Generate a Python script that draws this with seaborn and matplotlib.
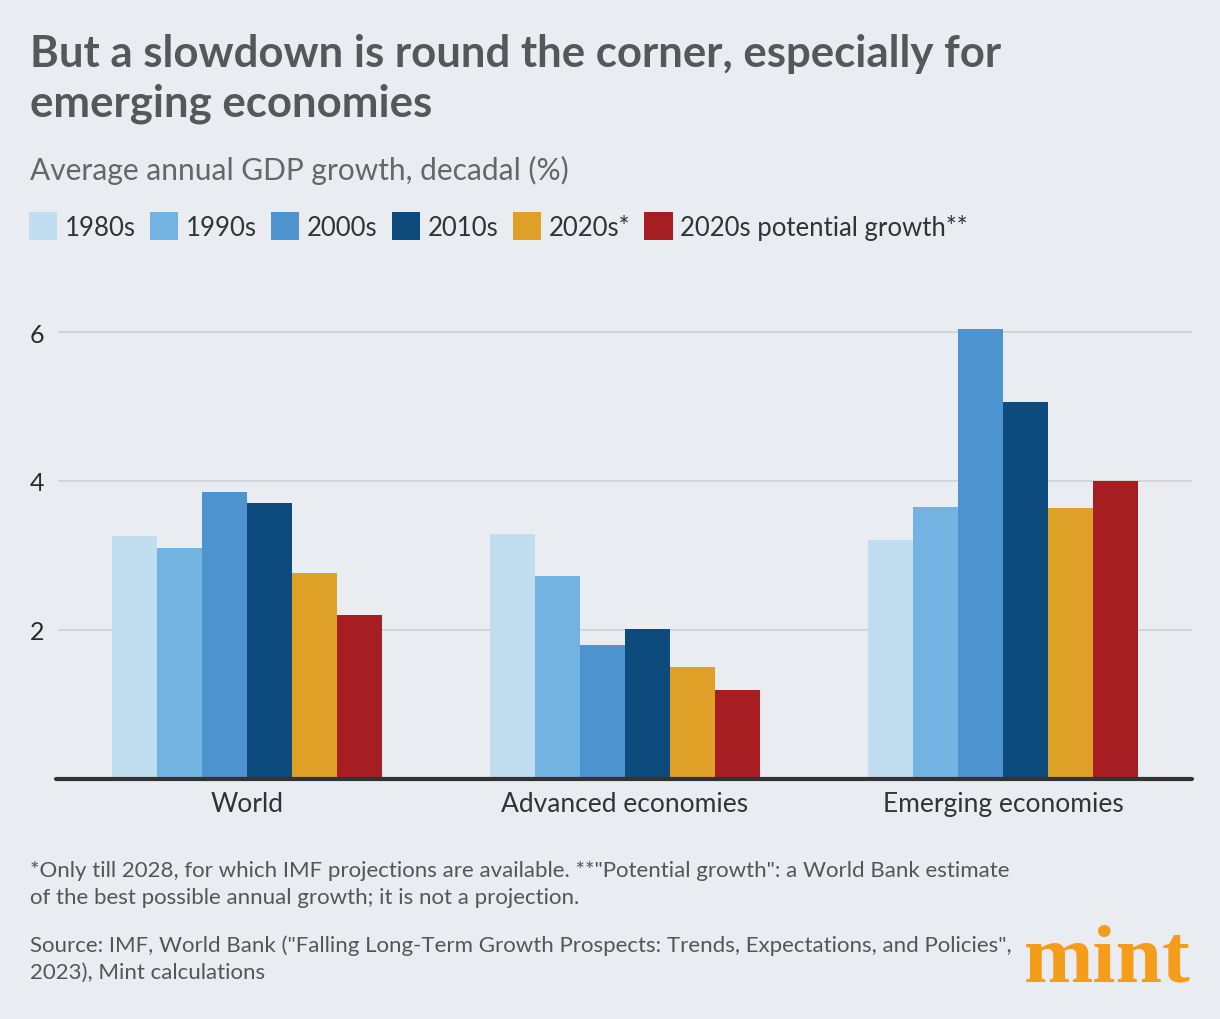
import matplotlib
matplotlib.use("Agg")
import matplotlib.pyplot as plt
import seaborn as sns
import pandas as pd

# ---- data ----
regions = ["World", "Advanced economies", "Emerging economies"]
decades = ["1980s", "1990s", "2000s", "2010s", "2020s*", "2020s potential growth**"]
growth_1980s = [3.26, 3.29, 3.21]
growth_1990s = [3.10, 2.72, 3.65]
growth_2000s = [3.85, 1.79, 6.04]
growth_2010s = [3.70, 2.01, 5.06]
growth_2020s = [2.76, 1.50, 3.64]
growth_2020s_potential = [2.20, 1.19, 4.00]
y_ticks = [2, 4, 6]

title_lines = ["But a slowdown is round the corner, especially for", "emerging economies"]
subtitle = "Average annual GDP growth, decadal (%)"
footnote_lines = ["*Only till 2028, for which IMF projections are available. **\"Potential growth\": a World Bank estimate",
                  "of the best possible annual growth; it is not a projection."]
source_lines = ["Source: IMF, World Bank (\"Falling Long-Term Growth Prospects: Trends, Expectations, and Policies\",",
                "2023), Mint calculations"]

colors = ["#c1ddf0", "#72b3e2", "#4c93cf", "#0d4b7c", "#dea027", "#a61e22"]
BG = "#e9ecf0"

series = [growth_1980s, growth_1990s, growth_2000s, growth_2010s, growth_2020s, growth_2020s_potential]
rows = []
for dec, vals in zip(decades, series):
    for reg, v in zip(regions, vals):
        rows.append({"region": reg, "decade": dec, "value": v})
df = pd.DataFrame(rows)

sns.set_theme(style="white")
FONT = ["Lato", "DejaVu Sans"]
plt.rcParams["font.family"] = FONT

W, H = 1220, 1020
fig = plt.figure(figsize=(W / 100, H / 100), dpi=100, facecolor=BG)

def fx(px):
    return px / W

def fy(py):
    return 1 - py / H

# axes placement (pixels)
ax_left, ax_right = 58, 1192
y0_px = 779.5
unit = 74.4
ymax = 6.5
ax_top = y0_px - ymax * unit
ax = fig.add_axes([fx(ax_left), fy(y0_px), (ax_right - ax_left) / W, (y0_px - ax_top) / H])
ax.set_facecolor(BG)

sns.barplot(data=df, x="region", y="value", hue="decade", hue_order=decades,
            order=regions, palette=colors, saturation=1, width=0.716,
            errorbar=None, ax=ax, linewidth=0, zorder=2)

handles, labels = ax.get_legend_handles_labels()
if ax.get_legend() is not None:
    ax.get_legend().remove()

ax.set_xlim(-0.5, 2.5)
ax.set_ylim(0, ymax)
ax.set_yticks(y_ticks)
ax.set_yticklabels([str(t) for t in y_ticks])
ax.grid(axis="y", color="#d2d5da", linewidth=1.4)
ax.grid(axis="x", visible=False)
ax.set_axisbelow(True)
for s in ax.spines.values():
    s.set_visible(False)
ax.axhline(0, xmin=-0.002, xmax=1, color="#333333", linewidth=3, zorder=5, clip_on=False)
ax.set_xlabel("")
ax.set_ylabel("")
ax.tick_params(axis="both", length=0)
ax.tick_params(axis="y", pad=10, labelsize=18, labelcolor="#2a2a2a")
ax.tick_params(axis="x", pad=9, labelsize=19, labelcolor="#333333")

# title, subtitle
for i, line in enumerate(title_lines):
    fig.text(fx(30), fy(67 + 50 * i), line, ha="left", va="baseline", fontsize=31.5,
             fontweight="bold", color="#555759")
fig.text(fx(30), fy(180), subtitle, ha="left", va="baseline", fontsize=21.5,
         color="#666666")

# legend
leg = fig.legend(handles, labels, loc="upper left", bbox_to_anchor=(fx(29), fy(213)),
                 ncol=6, frameon=False, fontsize=18.5, handlelength=1.1, handleheight=1.3,
                 handletextpad=0.3, columnspacing=0.55, borderaxespad=0, borderpad=0)
for t in leg.get_texts():
    t.set_color("#333333")

# footnotes
for i, line in enumerate(footnote_lines):
    fig.text(fx(30), fy(877 + 27 * i), line, ha="left", va="baseline", fontsize=16,
             color="#555555")
for i, line in enumerate(source_lines):
    fig.text(fx(30), fy(952 + 27 * i), line, ha="left", va="baseline", fontsize=16,
             color="#555555")

# logo
fig.text(fx(1190), fy(982), "mint", ha="right", va="baseline", fontsize=60,
         fontweight="bold", color="#f59c1a", family=["Liberation Serif", "DejaVu Serif"])

fig.savefig("out.png", dpi=100, facecolor=BG)
